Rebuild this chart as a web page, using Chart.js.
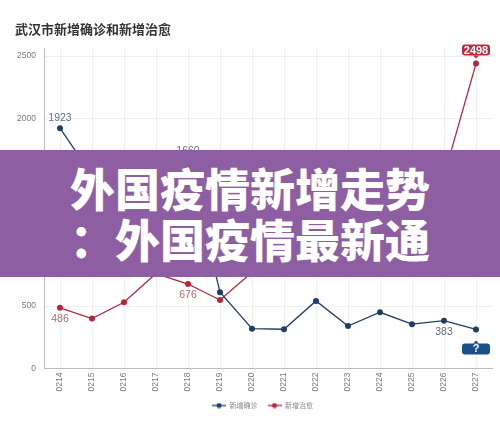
<!DOCTYPE html>
<html>
<head>
<meta charset="utf-8">
<script src="https://cdn.jsdelivr.net/npm/chart.js@4/dist/chart.umd.min.js"></script>
<style>
  html, body { margin: 0; padding: 0; background: #fff; }
  #wrap { position: relative; width: 500px; height: 428px; }
  #banner {
    position: absolute; left: 0; top: 150px; width: 500px; height: 127px;
    background: #8e5ea2; color: #fff; text-align: center;
    font-family: "Noto Sans CJK SC", sans-serif; font-weight: 900;
    font-size: 45px; line-height: 51px; padding-top: 12px; box-sizing: border-box;
  }
</style>
</head>
<body>
<div id="wrap">
  <canvas id="chart" width="500" height="428"></canvas>
  <div id="banner">外国疫情新增走势<br>：外国疫情最新通</div>
</div>
<script>
// data
const dates = ['0214', '0215', '0216', '0217', '0218', '0219', '0220',
               '0221', '0222', '0223', '0224', '0225', '0226', '0227'];
const confirmed = [1923, 1548, 1690, 1600, 1660, 610, 319, 314, 541, 340, 450, 355, 383, 313];
const cured = [486, 400, 530, 760, 676, 548, 770, 900, 1050, 1150, 1300, 1400, 1540, 2440];
const confirmedLabels = ['1923', null, null, null, '1660', null, null, null, null, null, null, null, '383', '?'];
const curedLabels = ['486', null, null, null, '676', null, null, null, null, null, null, null, null, '2498'];
const yTicks = [0, 500, 1000, 1500, 2000, 2500];

const BLUE = '#1f3d66';
const RED = '#b5263d';

// legend marker: short line with a dot in the middle
function legendMarker(color) {
  const c = document.createElement('canvas');
  c.width = 14; c.height = 6;
  const g = c.getContext('2d');
  g.strokeStyle = color; g.lineWidth = 1.3;
  g.beginPath(); g.moveTo(0, 3); g.lineTo(14, 3); g.stroke();
  g.fillStyle = color;
  g.beginPath(); g.arc(7, 3, 2.5, 0, Math.PI * 2); g.fill();
  return c;
}

function roundRect(ctx, x, y, w, h, r) {
  ctx.beginPath();
  ctx.moveTo(x + r, y);
  ctx.arcTo(x + w, y, x + w, y + h, r);
  ctx.arcTo(x + w, y + h, x, y + h, r);
  ctx.arcTo(x, y + h, x, y, r);
  ctx.arcTo(x, y, x + w, y, r);
  ctx.closePath();
}

const pointText = {
  id: 'pointText',
  afterDatasetsDraw(chart, args, opts) {
    const ctx = chart.ctx;
    opts.sets.forEach((set, di) => {
      const meta = chart.getDatasetMeta(di);
      set.texts.forEach((txt, i) => {
        if (txt == null) return;
        const pt = meta.data[i];
        const place = set.place[i] || 'above';
        ctx.save();
        if (place === 'badgeAbove' || place === 'badgeBelow') {
          const w = 28, h = 11;
          const top = place === 'badgeAbove' ? pt.y - 8 - h : pt.y + 14;
          ctx.fillStyle = set.badge;
          roundRect(ctx, pt.x - w / 2, top, w, h, 3);
          ctx.fill();
          ctx.beginPath();
          if (place === 'badgeAbove') {
            ctx.moveTo(pt.x - 3, top + h); ctx.lineTo(pt.x + 3, top + h); ctx.lineTo(pt.x, top + h + 3);
          } else {
            ctx.moveTo(pt.x - 3, top); ctx.lineTo(pt.x + 3, top); ctx.lineTo(pt.x, top - 3);
          }
          ctx.fill();
          ctx.fillStyle = '#fff';
          ctx.font = 'bold 11px "Liberation Sans", Arial, sans-serif';
          ctx.textAlign = 'center'; ctx.textBaseline = 'middle';
          ctx.fillText(txt, pt.x, top + h / 2 + 0.5);
        } else {
          ctx.fillStyle = set.color;
          ctx.font = '10.5px "Liberation Sans", Arial, sans-serif';
          ctx.textAlign = 'center'; ctx.textBaseline = 'middle';
          ctx.fillText(txt, pt.x, place === 'above' ? pt.y - 10 : pt.y + 11);
        }
        ctx.restore();
      });
    });
  }
};

// legend in the original sits a little right of centre
const legendShift = {
  id: 'legendShift',
  afterLayout(chart) {
    const lg = chart.legend;
    lg.left += 9; lg.right += 9;
    lg.adjustHitBoxes();
  }
};

new Chart(document.getElementById('chart'), {
  type: 'line',
  data: {
    labels: dates,
    datasets: [
      {
        label: '新增确诊',
        data: confirmed,
        borderColor: BLUE,
        backgroundColor: BLUE,
        borderWidth: 1.3,
        pointRadius: 3,
        pointBorderWidth: 0,
        tension: 0
      },
      {
        label: '新增治愈',
        data: cured,
        borderColor: RED,
        backgroundColor: RED,
        borderWidth: 1.3,
        pointRadius: 3,
        pointBorderWidth: 0,
        tension: 0
      }
    ]
  },
  options: {
    responsive: false,
    animation: false,
    layout: { padding: { left: 15, right: 8, top: 0, bottom: 9 } },
    scales: {
      x: {
        offset: true,
        grid: { color: '#efefef', offset: false, drawTicks: false },
        border: { color: '#bbb' },
        ticks: {
          minRotation: 90, maxRotation: 90, padding: 4,
          color: '#777', font: { size: 8.5, family: '"Liberation Sans", Arial, sans-serif' }
        },
        afterFit(scale) { scale.height = 23.5; }
      },
      y: {
        min: 0,
        max: 2560,
        grid: { color: '#efefef', drawTicks: false },
        border: { color: '#bbb' },
        ticks: {
          stepSize: 500, padding: 8,
          color: '#777', font: { size: 8.5, family: '"Liberation Sans", Arial, sans-serif' },
          callback: v => String(v)
        },
        afterBuildTicks(scale) {
          scale.ticks = yTicks.map(v => ({ value: v }));
        },
        afterFit(scale) { scale.width = 29; }
      }
    },
    plugins: {
      title: {
        display: true,
        text: '武汉市新增确诊和新增治愈',
        align: 'start',
        color: '#333',
        font: { size: 13, weight: 'bold', family: '"Noto Sans CJK SC", sans-serif' },
        padding: { top: 21, bottom: 12 }
      },
      legend: {
        position: 'bottom',
        labels: {
          usePointStyle: true,
          pointStyleWidth: 14,
          padding: 10,
          color: '#888',
          font: { size: 7, family: '"Noto Sans CJK SC", sans-serif' },
          generateLabels(chart) {
            return chart.data.datasets.map((ds, i) => ({
              text: ds.label,
              fillStyle: ds.borderColor,
              strokeStyle: ds.borderColor,
              fontColor: '#888',
              pointStyle: legendMarker(ds.borderColor),
              datasetIndex: i,
              hidden: false
            }));
          }
        }
      },
      tooltip: { enabled: false },
      pointText: {
        sets: [
          { texts: confirmedLabels, color: '#5b6f88', badge: '#1b4f8c',
            place: { 0: 'above', 4: 'above', 12: 'below', 13: 'badgeBelow' } },
          { texts: curedLabels, color: '#b46a6a', badge: '#c0283e',
            place: { 0: 'below', 4: 'below', 13: 'badgeAbove' } }
        ]
      }
    }
  },
  plugins: [pointText, legendShift]
});
</script>
</body>
</html>
